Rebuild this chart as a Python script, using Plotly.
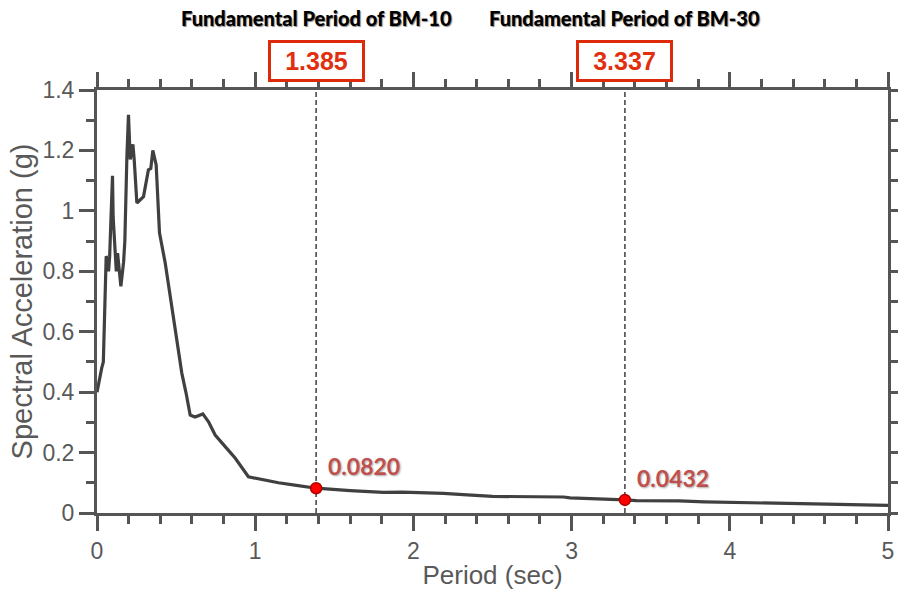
import plotly.graph_objects as go

# ---- data ----
period = [0.0, 0.01, 0.03, 0.04, 0.052, 0.058, 0.066, 0.073, 0.08, 0.098, 0.102,
          0.115, 0.122, 0.13, 0.151, 0.168, 0.176, 0.189, 0.199, 0.21, 0.227, 0.235,
          0.252, 0.294, 0.325, 0.34, 0.353, 0.374, 0.395, 0.431, 0.462, 0.494,
          0.536, 0.563, 0.589, 0.62, 0.669, 0.705, 0.747, 0.82, 0.873, 0.957,
          1.04, 1.147, 1.25, 1.385, 1.6, 1.81, 1.93, 2.19, 2.34, 2.5, 2.95, 2.99,
          3.337, 3.41, 3.68, 3.84, 4.53, 5.0]
sa = [0.40, 0.43, 0.48, 0.50, 0.70, 0.85, 0.84, 0.80, 0.85, 1.116, 0.98,
      0.86, 0.80, 0.86, 0.75, 0.83, 0.90, 1.18, 1.318, 1.17, 1.22, 1.17,
      1.026, 1.047, 1.136, 1.14, 1.20, 1.152, 0.927, 0.828, 0.716, 0.606,
      0.463, 0.397, 0.324, 0.318, 0.328, 0.302, 0.258, 0.214, 0.182, 0.120,
      0.111, 0.100, 0.092, 0.082, 0.074, 0.068, 0.069, 0.065, 0.060, 0.055, 0.053, 0.050,
      0.0432, 0.041, 0.040, 0.037, 0.030, 0.025]

fund_periods = [1.385, 3.337]
fund_sa = [0.0820, 0.0432]
fund_names = ["Fundamental Period of BM-10", "Fundamental Period of BM-30"]
period_labels = ["1.385", "3.337"]
sa_labels = ["0.0820", "0.0432"]

x_ticks = [0, 1, 2, 3, 4, 5]
y_ticks = [0, 0.2, 0.4, 0.6, 0.8, 1.0, 1.2, 1.4]
y_tick_text = ["0", "0.2", "0.4", "0.6", "0.8", "1", "1.2", "1.4"]

AX = "#555555"
TXT = "#595959"

fig = go.Figure()
fig.add_trace(go.Scatter(x=period, y=sa, mode="lines",
                         line=dict(color="#404040", width=3.2),
                         hoverinfo="skip", showlegend=False))
fig.add_trace(go.Scatter(x=fund_periods, y=fund_sa, mode="markers",
                         marker=dict(color="#ff0000", size=11,
                                     line=dict(color="#b00000", width=1.5)),
                         showlegend=False))

for p in fund_periods:
    fig.add_shape(type="line", xref="x", yref="paper", x0=p, x1=p, y0=0, y1=1,
                  line=dict(color="#404040", width=1.5, dash="5px,3px"), layer="below")

for p, name, plab, slab, s in zip(fund_periods, fund_names, period_labels, sa_labels, fund_sa):
    fig.add_annotation(x=p, xref="x", y=1, yref="paper", yanchor="middle", yshift=72,
                       text=name, showarrow=False,
                       font=dict(family="Lato, Open Sans, sans-serif", size=20,
                                 color="#000000", weight=900, shadow="1px 1px 1px #888"))
    fig.add_annotation(x=p, xref="x", y=1, yref="paper", yanchor="bottom", yshift=8,
                       text=plab, showarrow=False, width=85, height=30,
                       borderwidth=3, bordercolor="#dd2a0a", borderpad=3, bgcolor="#ffffff",
                       font=dict(family="Liberation Sans, Arial, sans-serif", size=25,
                                 color="#e0300f", weight="bold"))
    fig.add_annotation(x=p, xref="x", y=s, yref="y", xanchor="left", yanchor="middle",
                       xshift=10, yshift=22, text=slab, showarrow=False,
                       font=dict(family="Lato, Open Sans, sans-serif", size=23,
                                 color="#c0504d", weight="bold", shadow="1px 1px 2px #aaa"))

axis_common = dict(showline=True, linecolor=AX, linewidth=3, mirror="ticks",
                   ticks="outside", tickcolor=AX, tickwidth=3, ticklen=15,
                   showgrid=False, zeroline=False, automargin=False,
                   tickfont=dict(family="Liberation Sans, Arial, sans-serif", size=23, color=TXT))

fig.update_xaxes(range=[0, 5], tickvals=x_ticks,
                 minor=dict(dtick=0.2, ticks="outside", ticklen=8, tickwidth=3, tickcolor=AX, showgrid=False),
                 title=dict(text="Period (sec)", standoff=4,
                            font=dict(family="Liberation Sans Narrow, Arial Narrow, Liberation Sans, Arial",
                                      size=26, color=TXT)),
                 **axis_common)
fig.update_yaxes(range=[0, 1.4], tickvals=y_ticks, ticktext=y_tick_text,
                 minor=dict(dtick=0.1, ticks="outside", ticklen=8, tickwidth=3, tickcolor=AX, showgrid=False),
                 title=dict(text="Spectral Acceleration (g)", standoff=2,
                            font=dict(family="Liberation Sans Narrow, Arial Narrow, Liberation Sans, Arial",
                                      size=29, color=TXT)),
                 **axis_common)

fig.update_layout(width=898, height=595, margin=dict(l=97, r=10, t=90, b=82),
                  paper_bgcolor="white", plot_bgcolor="white", showlegend=False)

fig.write_html("out.html")
